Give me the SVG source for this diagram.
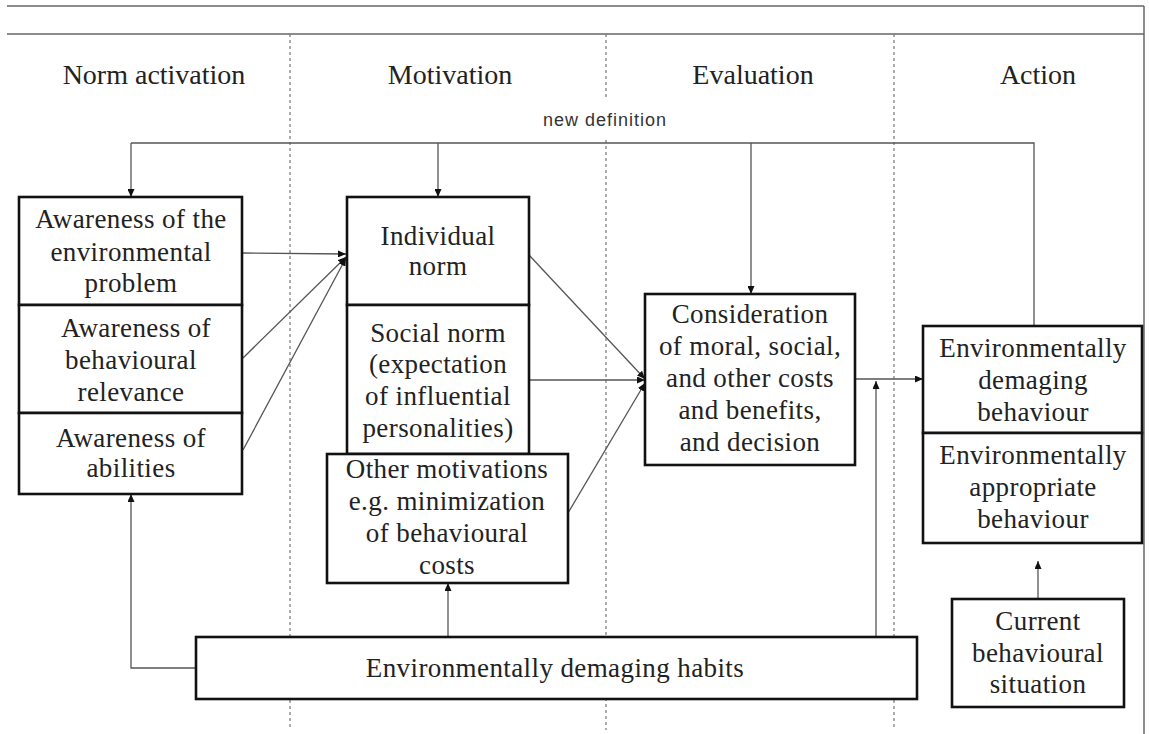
<svg xmlns="http://www.w3.org/2000/svg" width="1149" height="734" viewBox="0 0 1149 734">
<defs>
<marker id="ah" viewBox="0 0 8 7" refX="8" refY="3.5" markerWidth="8" markerHeight="7" markerUnits="userSpaceOnUse" orient="auto">
<path d="M0,0 L8,3.5 L0,7 z" fill="#111"/>
</marker>
<style>
.frame{stroke:#666;stroke-width:1.5;fill:none}
.dash{stroke:#777;stroke-width:1.2;stroke-dasharray:3,3;fill:none}
.box{fill:#fff;stroke:#111;stroke-width:2.6}
.conn{stroke:#555;stroke-width:1.3;fill:none}
.arr{marker-end:url(#ah)}
.hdr{font-family:"Liberation Serif","Times New Roman",serif;font-size:28px;fill:#222;text-anchor:middle}
.t{font-family:"Liberation Serif","Times New Roman",serif;font-size:27px;fill:#222;text-anchor:middle;letter-spacing:0.4px}
.small{font-family:"Liberation Sans",Arial,sans-serif;font-size:18px;fill:#333;text-anchor:middle;letter-spacing:1px}
</style>
</defs>
<rect width="1149" height="734" fill="#fff"/>
<g id="frame">
<line class="frame" x1="7" y1="6" x2="1144" y2="6"/>
<line class="frame" x1="7" y1="34" x2="1144" y2="34"/>
<line class="frame" x1="1144" y1="6" x2="1144" y2="734"/>
<line class="dash" x1="290" y1="34" x2="290" y2="730"/>
<line class="dash" x1="606" y1="34" x2="606" y2="97"/>
<line class="dash" x1="606" y1="140" x2="606" y2="730"/>
<line class="dash" x1="894" y1="34" x2="894" y2="730"/>
</g>
<g id="headers">
<text class="hdr" x="154" y="84">Norm activation</text>
<text class="hdr" x="450" y="84">Motivation</text>
<text class="hdr" x="753" y="84">Evaluation</text>
<text class="hdr" x="1038" y="84">Action</text>
<text class="small" x="605" y="126">new definition</text>
</g>
<g id="connectors">
<polyline class="conn" points="131,143 1034,143 1034,326"/>
<line class="conn arr" x1="131" y1="143" x2="131" y2="197"/>
<line class="conn arr" x1="438" y1="143" x2="438" y2="197"/>
<line class="conn arr" x1="751" y1="143" x2="751" y2="294"/>
<line class="conn arr" x1="243" y1="253" x2="346" y2="254"/>
<line class="conn arr" x1="243" y1="358" x2="346" y2="257"/>
<line class="conn arr" x1="243" y1="450" x2="346" y2="258"/>
<line class="conn arr" x1="529" y1="255" x2="645" y2="379"/>
<line class="conn arr" x1="529" y1="380" x2="645" y2="380"/>
<line class="conn arr" x1="568" y1="513" x2="645" y2="383"/>
<line class="conn arr" x1="855" y1="379" x2="923" y2="379"/>
<line class="conn arr" x1="876" y1="637" x2="876" y2="381"/>
<polyline class="conn arr" points="196,668 131,668 131,494"/>
<line class="conn arr" x1="448" y1="637" x2="448" y2="583"/>
<line class="conn arr" x1="1038" y1="599" x2="1038" y2="561"/>
</g>
<g id="awareness-problem">
<rect class="box" x="19" y="197" width="223" height="108"/>
<text class="t" x="131" y="228">Awareness of the</text>
<text class="t" x="131" y="261">environmental</text>
<text class="t" x="131" y="292">problem</text>
</g>
<g id="awareness-relevance">
<rect class="box" x="19" y="305" width="223" height="108"/>
<text class="t" x="136" y="337">Awareness of</text>
<text class="t" x="131" y="369">behavioural</text>
<text class="t" x="131" y="401">relevance</text>
</g>
<g id="awareness-abilities">
<rect class="box" x="19" y="413" width="223" height="81"/>
<text class="t" x="131" y="447">Awareness of</text>
<text class="t" x="131" y="477">abilities</text>
</g>
<g id="individual-norm">
<rect class="box" x="347" y="197" width="182" height="108"/>
<text class="t" x="438" y="245">Individual</text>
<text class="t" x="438" y="275">norm</text>
</g>
<g id="social-norm">
<rect class="box" x="347" y="305" width="182" height="149"/>
<text class="t" x="438" y="342">Social norm</text>
<text class="t" x="438" y="373">(expectation</text>
<text class="t" x="438" y="405">of influential</text>
<text class="t" x="438" y="437">personalities)</text>
</g>
<g id="other-motivations">
<rect class="box" x="327" y="454" width="241" height="129"/>
<text class="t" x="447" y="478">Other motivations</text>
<text class="t" x="447" y="510">e.g. minimization</text>
<text class="t" x="447" y="542">of behavioural</text>
<text class="t" x="447" y="574">costs</text>
</g>
<g id="consideration">
<rect class="box" x="645" y="294" width="210" height="171"/>
<text class="t" x="750" y="323">Consideration</text>
<text class="t" x="750" y="355">of moral, social,</text>
<text class="t" x="750" y="387">and other costs</text>
<text class="t" x="750" y="419">and benefits,</text>
<text class="t" x="750" y="451">and decision</text>
</g>
<g id="damaging-behaviour">
<rect class="box" x="923" y="326" width="219" height="107"/>
<text class="t" x="1033" y="357">Environmentally</text>
<text class="t" x="1033" y="389">demaging</text>
<text class="t" x="1033" y="421">behaviour</text>
</g>
<g id="appropriate-behaviour">
<rect class="box" x="923" y="433" width="219" height="110"/>
<text class="t" x="1033" y="464">Environmentally</text>
<text class="t" x="1033" y="496">appropriate</text>
<text class="t" x="1033" y="528">behaviour</text>
</g>
<g id="current-situation">
<rect class="box" x="952" y="599" width="172" height="108"/>
<text class="t" x="1038" y="630">Current</text>
<text class="t" x="1038" y="662">behavioural</text>
<text class="t" x="1038" y="693">situation</text>
</g>
<g id="habits">
<rect class="box" x="196" y="637" width="721" height="62"/>
<text class="t" x="555" y="677">Environmentally demaging habits</text>
</g>
</svg>
